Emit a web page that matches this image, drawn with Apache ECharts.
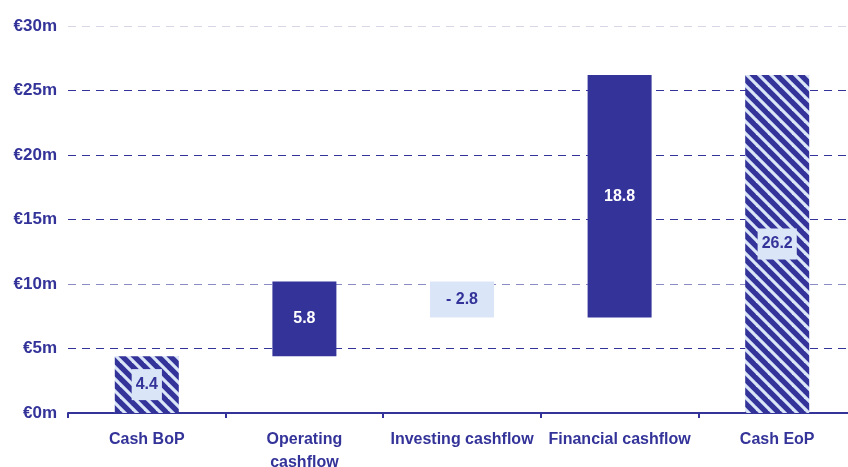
<!DOCTYPE html>
<html>
<head>
<meta charset="utf-8">
<script src="https://cdn.jsdelivr.net/npm/echarts@6/dist/echarts.min.js"></script>
<style>
  html, body { margin: 0; padding: 0; background: #fff; }
  #chart { width: 848px; height: 467px; }
</style>
</head>
<body>
<div id="chart"></div>
<script>
// data
var categories = ['Cash BoP', 'Operating\ncashflow', 'Investing cashflow', 'Financial cashflow', 'Cash EoP'];
var values = [4.4, 5.8, -2.8, 18.8, 26.2];
var kinds = ['total', 'step', 'step', 'step', 'total'];

var navy = '#333399';
var pale = '#dbe5f8';

// diagonal stripes for the totals
function hatch() {
	var n = 12;
	var c = document.createElement('canvas');
	c.width = n; c.height = n;
	var ctx = c.getContext('2d');
	ctx.fillStyle = navy;
	ctx.fillRect(0, 0, n, n);
	ctx.strokeStyle = pale;
	ctx.lineWidth = 3.2;
	for (var k = -1; k <= 1; k++) {
		ctx.beginPath();
		ctx.moveTo(k * n - 2, -2);
		ctx.lineTo(k * n + n + 2, n + 2);
		ctx.stroke();
	}
	return { image: c, repeat: 'repeat' };
}
var stripes = hatch();

// base (invisible) and visible parts of the waterfall
var base = [], shown = [];
var running = 0;
for (var i = 0; i < values.length; i++) {
	var v = values[i];
	if (kinds[i] === 'total') {
		base.push(0);
		running = v;
	} else if (v >= 0) {
		base.push(running);
		running += v;
	} else {
		running += v;
		base.push(running);
	}
	var item = { value: Math.abs(v), raw: v, itemStyle: {}, label: {} };
	if (kinds[i] === 'total') {
		item.itemStyle.color = stripes;
		item.label = { color: navy, backgroundColor: pale, padding: [8, 4, 7, 4] };
	} else if (v < 0) {
		item.itemStyle.color = pale;
		item.label = { color: navy };
	} else {
		item.itemStyle.color = navy;
		item.label = { color: '#fff' };
	}
	shown.push(item);
}

var chart = echarts.init(document.getElementById('chart'));
var option = {
	animation: false,
	textStyle: { fontFamily: 'Liberation Sans, Arial, sans-serif' },
	grid: { left: 68, width: 788, top: 26, bottom: 54, outerBoundsMode: 'none', containLabel: false },
	xAxis: {
		type: 'category',
		data: categories,
		axisLine: { lineStyle: { color: navy, width: 2 } },
		axisTick: { show: true, length: 5, lineStyle: { color: navy, width: 2 } },
		axisLabel: { color: navy, fontWeight: 'bold', fontSize: 16, margin: 15, lineHeight: 23, interval: 0 }
	},
	yAxis: {
		type: 'value',
		min: 0, max: 30, interval: 5,
		axisLine: { show: false },
		axisTick: { show: false },
		axisLabel: {
			color: navy, fontWeight: 'bold', fontSize: 17, margin: 11,
			formatter: function (v) { return '€' + v + 'm'; }
		},
		splitLine: {
			lineStyle: {
				type: [8, 6],
				color: [navy, navy, '#8a8ac4', navy, navy, navy, '#d6d6e4'],
				width: 1
			}
		}
	},
	series: [
		{
			type: 'bar', stack: 'wf', barWidth: 64,
			itemStyle: { color: 'transparent' },
			silent: true,
			data: base
		},
		{
			type: 'bar', stack: 'wf', barWidth: 64,
			label: {
				show: true, position: 'inside', fontWeight: 'bold', fontSize: 16,
				formatter: function (p) {
					var r = p.data.raw;
					return r < 0 ? '- ' + Math.abs(r).toFixed(1) : r.toFixed(1);
				}
			},
			data: shown
		}
	]
};
chart.setOption(option);
</script>
</body>
</html>
